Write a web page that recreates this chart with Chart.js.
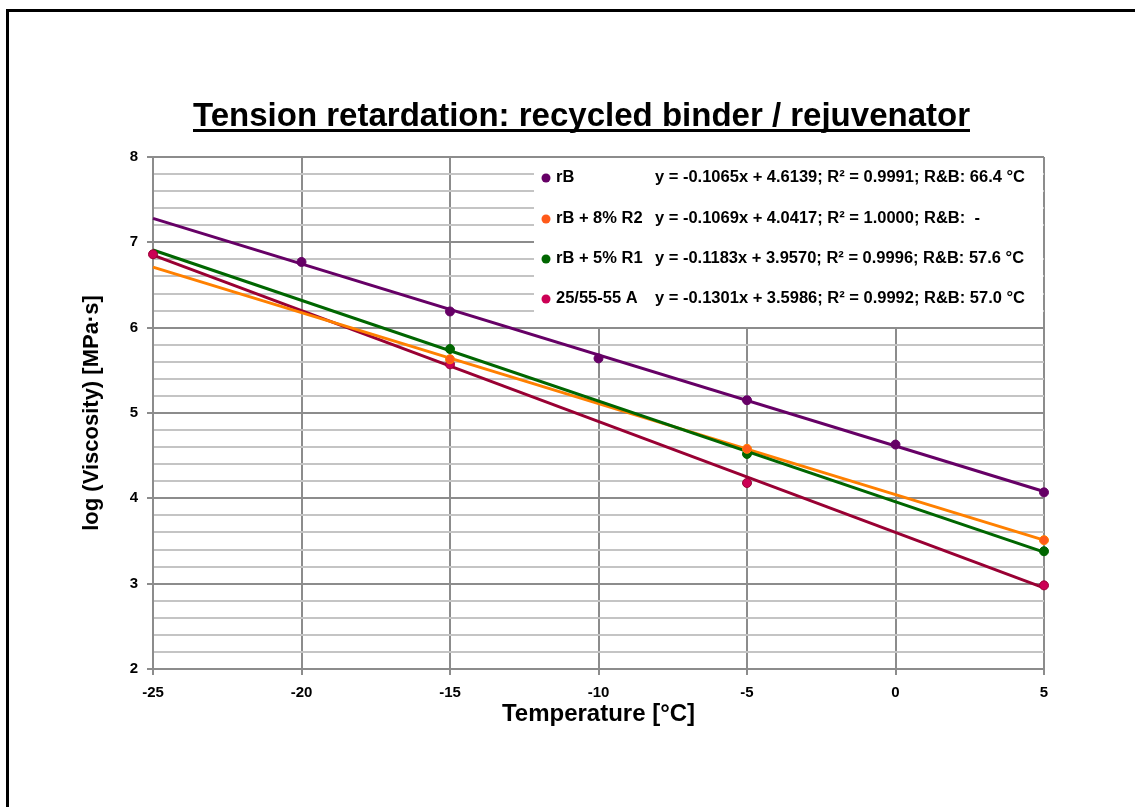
<!DOCTYPE html>
<html lang="en">
<head>
  <meta charset="UTF-8">
  <title>Tension retardation: recycled binder / rejuvenator</title>
  <script src="https://cdn.jsdelivr.net/npm/chart.js"></script>
  <style>
    html, body {
      margin: 0;
      padding: 0;
      background: #fff;
      overflow: hidden;
    }
    .frame {
      position: absolute;
      left: 6px;
      top: 9px;
      width: 1300px;
      height: 1000px;
      border-left: 3px solid #000;
      border-top: 3px solid #000;
    }
    .wrap {
      position: absolute;
      left: 0;
      top: 0;
      width: 1135px;
      height: 807px;
    }
  </style>
</head>
<body>

  <div class="frame"></div>
  <div class="wrap">
    <canvas id="viscChart"></canvas>
  </div>

<script>
  // temperatures of the measurements (°C)
  const temps = [-25, -20, -15, -10, -5, 0, 5];

  // log(viscosity), null = no point
  const rB      = [null, 6.77, 6.19, 5.64, 5.15, 4.63, 4.07];
  const rB8R2   = [null, null, 5.63, null, 4.58, null, 3.51];
  const rB5R1   = [null, null, 5.75, null, 4.52, null, 3.38];
  const a255555 = [6.86, null, 5.57, null, 4.18, null, 2.98];

  // linear trend lines, values at both ends of the x range
  const trendX       = [-25, 5];
  const trendRB      = [7.28, 4.08];
  const trendRB8R2   = [6.71, 3.51];
  const trendRB5R1   = [6.91, 3.37];
  const trendA255555 = [6.85, 2.95];

  const seriesNames = ['rB', 'rB + 8% R2', 'rB + 5% R1', '25/55-55 A'];
  const equations = [
    'y = -0.1065x + 4.6139; R\u00B2 = 0.9991; R&B: 66.4 \u00B0C',
    'y = -0.1069x + 4.0417; R\u00B2 = 1.0000; R&B:  -',
    'y = -0.1183x + 3.9570; R\u00B2 = 0.9996; R&B: 57.6 \u00B0C',
    'y = -0.1301x + 3.5986; R\u00B2 = 0.9992; R&B: 57.0 \u00B0C'
  ];

  const xTicks = [-25, -20, -15, -10, -5, 0, 5];
  const yMin = 2, yMax = 8;

  const markerColors = ['#660066', '#FF5A1A', '#006600', '#CC0055'];
  const lineColors   = ['#660066', '#FF8000', '#006600', '#990033'];

  const FONT = '"Liberation Sans", Arial, sans-serif';

  function toPoints(xs, ys) {
    const pts = [];
    xs.forEach((x, i) => {
      if (ys[i] !== null) pts.push({ x: x, y: ys[i] });
    });
    return pts;
  }

  const pointSeries = [rB, rB8R2, rB5R1, a255555];
  const trendSeries = [trendRB, trendRB8R2, trendRB5R1, trendA255555];
  const lineOrder = [4, 2, 1, 3]; // higher = drawn further below

  const datasets = [];
  seriesNames.forEach((name, i) => {
    datasets.push({
      label: name + ' trend',
      data: toPoints(trendX, trendSeries[i]),
      showLine: true,
      borderColor: lineColors[i],
      borderWidth: 3,
      pointRadius: 0,
      clip: false,
      order: lineOrder[i]
    });
  });
  seriesNames.forEach((name, i) => {
    datasets.push({
      label: name,
      data: toPoints(temps, pointSeries[i]),
      showLine: false,
      backgroundColor: markerColors[i],
      borderColor: lineColors[i],
      borderWidth: 1,
      pointRadius: 4.5,
      clip: false,
      order: 0
    });
  });

  function isMajor(v) {
    return Math.abs(v - Math.round(v)) < 1e-6;
  }

  // draws text squeezed horizontally to a given width
  function fitText(ctx, text, x, y, width) {
    const w = ctx.measureText(text).width;
    ctx.save();
    ctx.translate(x, y);
    ctx.scale(width / w, 1);
    ctx.fillText(text, 0, 0);
    ctx.restore();
  }

  const titleAndLegend = {
    id: 'titleAndLegend',
    afterDraw(chart) {
      const ctx = chart.ctx;
      ctx.save();

      // chart title, underlined
      ctx.fillStyle = '#000';
      ctx.font = 'bold 34px ' + FONT;
      ctx.textAlign = 'left';
      ctx.textBaseline = 'alphabetic';
      fitText(ctx, 'Tension retardation: recycled binder / rejuvenator', 193, 126, 777);
      ctx.fillRect(193, 129, 777, 3);

      // legend box inside the plot
      ctx.fillStyle = '#fff';
      ctx.fillRect(534, 158, 509, 169);

      ctx.font = 'bold 16px ' + FONT;
      ctx.textBaseline = 'middle';
      const sx = 370 / ctx.measureText(equations[0]).width;
      const rowY = [178, 219, 259, 299];
      seriesNames.forEach((name, i) => {
        ctx.fillStyle = markerColors[i];
        ctx.beginPath();
        ctx.arc(546, rowY[i], 4.5, 0, Math.PI * 2);
        ctx.fill();
        ctx.fillStyle = '#000';
        ctx.save();
        ctx.translate(556, rowY[i]);
        ctx.scale(sx, 1);
        ctx.fillText(name, 0, 0);
        ctx.restore();
        ctx.save();
        ctx.translate(655, rowY[i]);
        ctx.scale(sx, 1);
        ctx.fillText(equations[i], 0, 0);
        ctx.restore();
      });
      ctx.restore();
    }
  };

  const ctx = document.getElementById('viscChart').getContext('2d');
  const viscChart = new Chart(ctx, {
    type: 'scatter',
    data: { datasets: datasets },
    options: {
      responsive: true,
      maintainAspectRatio: false,
      animation: false,
      layout: {
        padding: { left: 0, right: 91, top: 157, bottom: 0 }
      },
      plugins: {
        legend: { display: false },
        tooltip: { enabled: false }
      },
      scales: {
        x: {
          type: 'linear',
          min: xTicks[0],
          max: xTicks[xTicks.length - 1],
          afterFit(scale) { scale.height = 138; },
          afterBuildTicks(scale) {
            scale.ticks = xTicks.map(v => ({ value: v }));
          },
          ticks: {
            stepSize: 5,
            padding: 9,
            color: '#000',
            font: { family: FONT, size: 15, weight: 'bold' }
          },
          grid: {
            color: '#8c8c8c',
            lineWidth: 2,
            tickLength: 6,
            tickColor: '#8c8c8c'
          },
          border: { color: '#8c8c8c', width: 2 },
          title: {
            display: true,
            text: 'Temperature [\u00B0C]',
            color: '#000',
            font: { family: FONT, size: 24, weight: 'bold' },
            padding: { top: 0, bottom: 78 }
          }
        },
        y: {
          min: yMin,
          max: yMax,
          afterFit(scale) { scale.width = 153; },
          ticks: {
            stepSize: 0.2,
            autoSkip: false,
            padding: 9,
            color: '#000',
            font: { family: FONT, size: 15, weight: 'bold' },
            callback: v => isMajor(v) ? Math.round(v) : ''
          },
          grid: {
            color: c => isMajor(c.tick.value) ? '#8c8c8c' : '#c4c4c4',
            lineWidth: 2,
            tickLength: 6,
            tickColor: c => isMajor(c.tick.value) ? '#8c8c8c' : 'rgba(0,0,0,0)'
          },
          border: { color: '#8c8c8c', width: 2 },
          title: {
            display: true,
            text: 'log (Viscosity) [MPa\u00B7s]',
            color: '#000',
            font: { family: FONT, size: 22, weight: 'bold' },
            padding: { top: 79, bottom: 0 }
          }
        }
      }
    },
    plugins: [titleAndLegend]
  });
</script>

</body>
</html>
